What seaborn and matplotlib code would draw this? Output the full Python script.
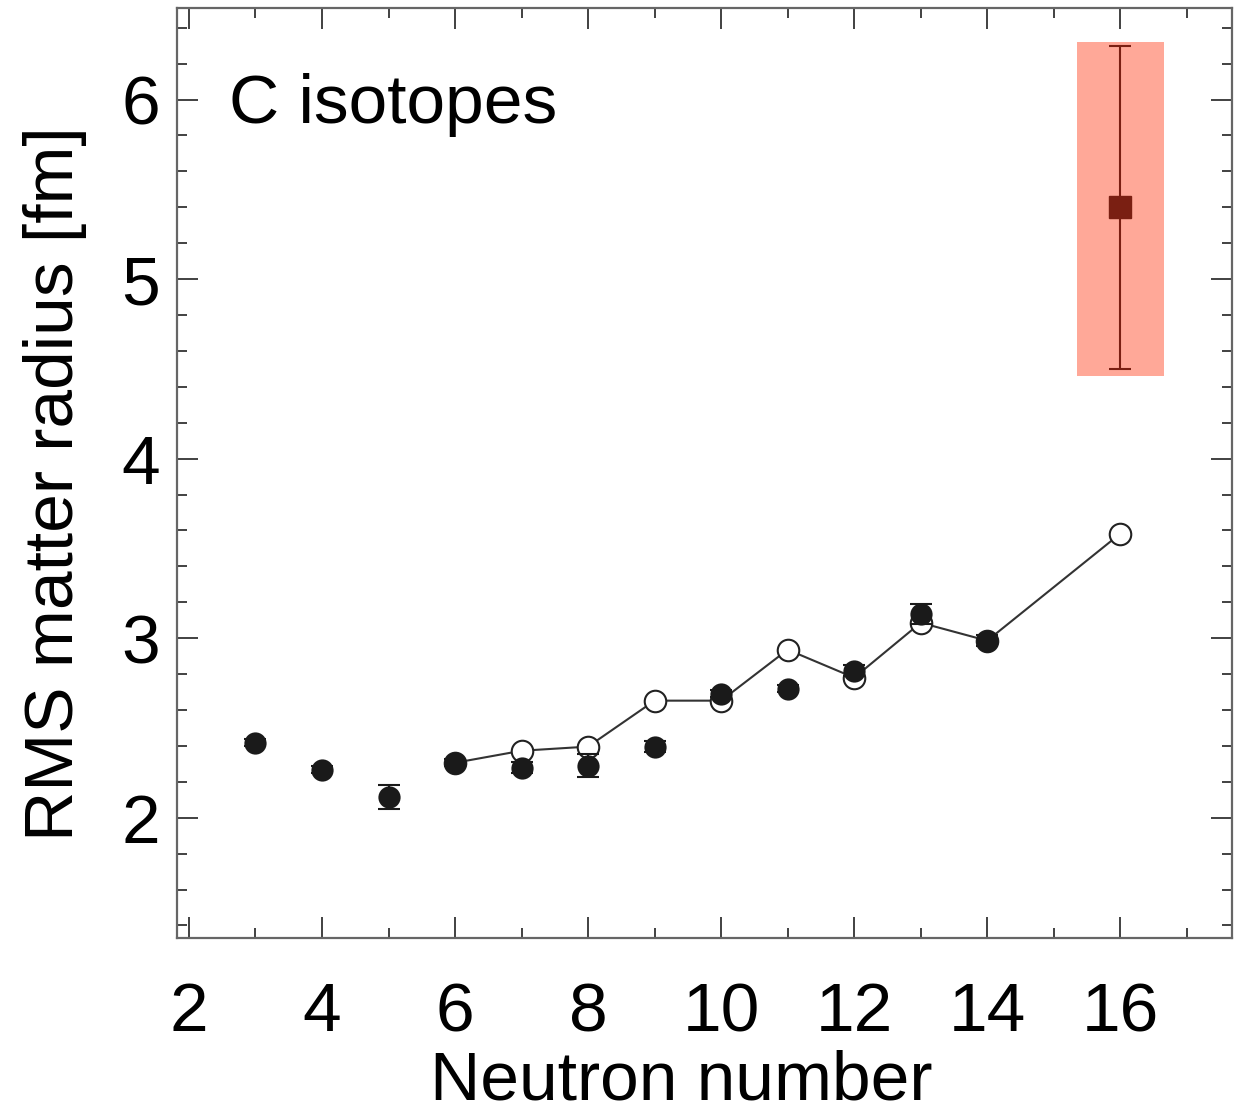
import numpy as np
import pandas as pd
import matplotlib
matplotlib.use("Agg")
import matplotlib.pyplot as plt
from matplotlib.patches import Rectangle
from matplotlib.ticker import MultipleLocator
import seaborn as sns

# ---- data ----
exp_N = [3, 4, 5, 6, 7, 8, 9, 10, 11, 12, 13, 14]
exp_R = [2.418, 2.267, 2.117, 2.306, 2.279, 2.290, 2.396, 2.691, 2.719, 2.819, 3.136, 2.986]
exp_err = [0.02, 0.02, 0.067, 0.02, 0.03, 0.065, 0.03, 0.02, 0.02, 0.03, 0.055, 0.03]

theo_N = [6, 7, 8, 9, 10, 11, 12, 13, 14, 16]
theo_R = [2.306, 2.373, 2.396, 2.652, 2.652, 2.936, 2.780, 3.086, 2.986, 3.582]

new_N = [16]
new_R = [5.40]
new_err_lo = [0.90]
new_err_hi = [0.90]
box_x = [15.35, 16.66]
box_y = [4.46, 6.32]

exp_df = pd.DataFrame({"N": exp_N, "R": exp_R})
theo_df = pd.DataFrame({"N": theo_N, "R": theo_R})

sns.set_theme(style="ticks")
plt.rcParams['font.family'] = ['Liberation Sans', 'DejaVu Sans']
plt.rcParams['text.color'] = 'black'
plt.rcParams['axes.labelcolor'] = 'black'
plt.rcParams['xtick.labelcolor'] = 'black'
plt.rcParams['ytick.labelcolor'] = 'black'

fig = plt.figure(figsize=(12.45, 11.15), dpi=100)
ax = fig.add_axes([177/1245, 1 - 938/1115, (1232-177)/1245, (938-8)/1115])

# shaded box
ax.add_patch(Rectangle((box_x[0], box_y[0]), box_x[1]-box_x[0], box_y[1]-box_y[0],
                       facecolor='#ffa898', edgecolor='none', zorder=1))

# theory line + open circles
sns.lineplot(data=theo_df, x="N", y="R", ax=ax, color='#333333', linewidth=1.5,
             marker='o', markersize=15.5, markerfacecolor='white',
             markeredgecolor='#222222', markeredgewidth=1.5, zorder=3)

# experimental errorbars and filled circles
ax.errorbar(exp_N, exp_R, yerr=exp_err, fmt='none', ecolor='#1a1a1a',
            elinewidth=1.5, capsize=8, capthick=1.5, zorder=4)
sns.scatterplot(data=exp_df, x="N", y="R", ax=ax, color='#1a1a1a', s=16**2,
                edgecolor='#1a1a1a', linewidth=0, zorder=5)

# new point
ax.errorbar(new_N, new_R, yerr=[new_err_lo, new_err_hi], fmt='s', color='#7a1f12',
            markersize=15.5, ecolor='#7a1f12', elinewidth=1.5, capsize=8, capthick=1.5,
            zorder=6)

ax.set_xlim(1.82, 17.68)
ax.set_ylim(1.33, 6.51)

ax.xaxis.set_major_locator(MultipleLocator(2))
ax.xaxis.set_minor_locator(MultipleLocator(1))
ax.yaxis.set_major_locator(MultipleLocator(1))
ax.yaxis.set_minor_locator(MultipleLocator(0.2))

ax.tick_params(which='both', direction='in', top=True, right=True,
               color='#333333', width=1.3)
ax.tick_params(which='major', length=15)
ax.tick_params(which='minor', length=7.5)
ax.tick_params(axis='x', which='major', labelsize=50, pad=31)
ax.tick_params(axis='y', which='major', labelsize=50, pad=12)

for sp in ax.spines.values():
    sp.set_color('#666666')
    sp.set_linewidth(1.6)

ax.set_xlabel("Neutron number", fontsize=50)
ax.set_ylabel("RMS matter radius [fm]", fontsize=50)
ax.xaxis.set_label_coords((681-177)/1055, -(1113-938)/930, transform=ax.transAxes)
ax.xaxis.label.set_va('bottom')
ax.yaxis.set_label_coords(-(177-23)/1055, 1 - (484-8)/930, transform=ax.transAxes)
ax.yaxis.label.set_va('top')

ax.text(2.6, 5.97, "C isotopes", fontsize=50, ha='left', va='center')

fig.savefig("out.png", dpi=100)
